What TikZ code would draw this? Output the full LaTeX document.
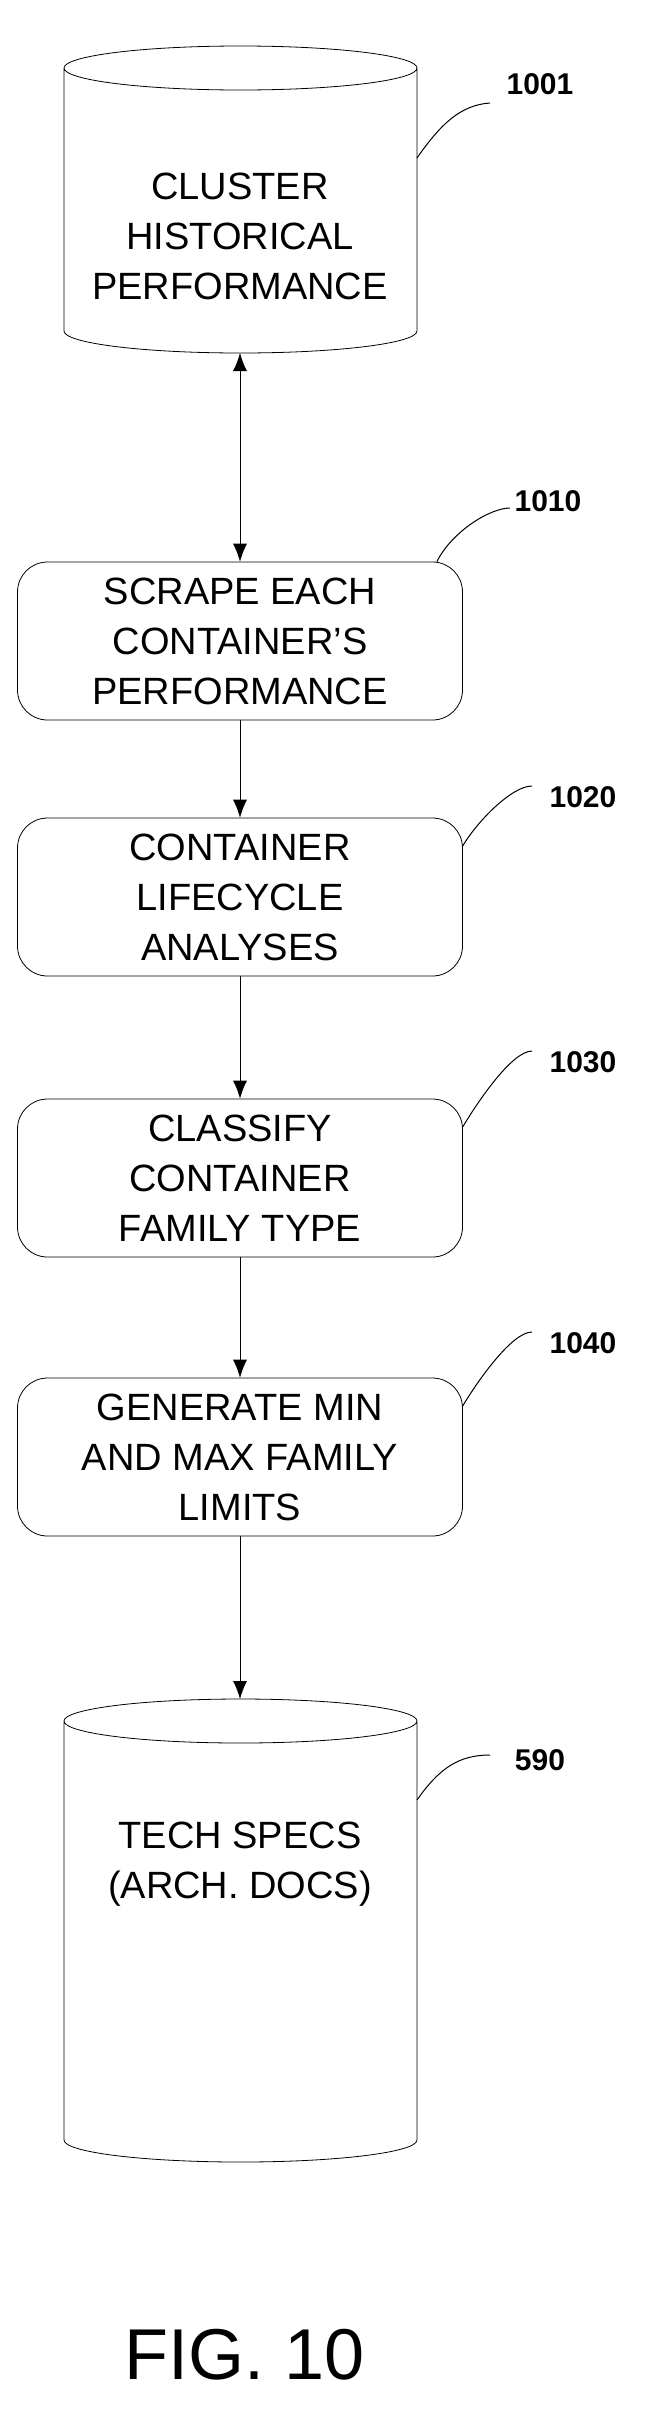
\documentclass[tikz,border=0pt]{standalone}
\usepackage{fontspec}
\setmainfont{Liberation Sans}
\usetikzlibrary{arrows.meta}
\begin{document}
\begin{tikzpicture}[x=1pt,y=-1pt,
  box/.style={draw,line width=0.8pt,rounded corners=30pt,minimum width=445pt,minimum height=158pt,align=center,font=\fontsize{38}{50}\selectfont},
  txt/.style={align=center,font=\fontsize{38}{50}\selectfont},
  lbl/.style={font=\bfseries\fontsize{30}{32}\selectfont},
  arr/.style={line width=0.8pt,-{Latex[length=18pt,width=14pt]}},
  cyl/.style={line width=0.8pt},
  lead/.style={line width=1pt}]
\useasboundingbox (0,0) rectangle (659,2420);
% cylinder 1
\draw[cyl] (64,68) -- (64,331) arc[start angle=180,end angle=0,x radius=176.5,y radius=22] -- (417,68) arc[start angle=0,end angle=-180,x radius=176.5,y radius=22] arc[start angle=180,end angle=0,x radius=176.5,y radius=22];
\node[txt] (c1) at (240,236) {CLUSTER\\HISTORICAL\\PERFORMANCE};
\coordinate (c1b) at (240,353);
\coordinate (c1r) at (417,158);
\node[lbl] (l1) at (540,84) {1001};
\draw[lead] (c1r) .. controls (440,125) and (460,105) .. (490,103);
% boxes
\node[box] (b1) at (240,641) {SCRAPE EACH\\CONTAINER'S\\PERFORMANCE};
\node[box] (b2) at (240,897) {CONTAINER\\LIFECYCLE\\ANALYSES};
\node[box] (b3) at (240,1178) {CLASSIFY\\CONTAINER\\FAMILY TYPE};
\node[box] (b4) at (240,1457) {GENERATE MIN\\AND MAX FAMILY\\LIMITS};
\node[lbl] (l2) at (548,501) {1010};
\node[lbl] (l3) at (583,797) {1020};
\node[lbl] (l4) at (583,1062) {1030};
\node[lbl] (l5) at (583,1343) {1040};
\draw[lead] ([xshift=-26pt]b1.north east) .. controls +(15,-30) and +(-20,0) .. (510,508);
\draw[lead] ([yshift=-28pt]b2.north east) .. controls +(15,-25) and +(-20,0) .. (532,786);
\draw[lead] ([yshift=-28pt]b3.north east) .. controls +(15,-25) and +(-20,0) .. (532,1051);
\draw[lead] ([yshift=-28pt]b4.north east) .. controls +(15,-25) and +(-20,0) .. (532,1332);
% cylinder 2
\draw[cyl] (64,1721) -- (64,2140) arc[start angle=180,end angle=0,x radius=176.5,y radius=22] -- (417,1721) arc[start angle=0,end angle=-180,x radius=176.5,y radius=22] arc[start angle=180,end angle=0,x radius=176.5,y radius=22];
\node[txt] (c2) at (240,1864) {TECH SPECS\\(ARCH. DOCS)};
\coordinate (c2t) at (240,1699);
\coordinate (c2r) at (417,1800);
\node[lbl] (l6) at (540,1760) {590};
\draw[lead] (c2r) .. controls (440,1767) and (460,1755) .. (490,1755);
% arrows
\draw[line width=0.8pt,{Latex[length=18pt,width=14pt]}-{Latex[length=18pt,width=14pt]}] (c1b) -- (b1.north);
\draw[arr] (b1.south) -- (b2.north);
\draw[arr] (b2.south) -- (b3.north);
\draw[arr] (b3.south) -- (b4.north);
\draw[arr] (b4.south) -- (c2t);
\node[font=\fontsize{72}{80}\selectfont] (fig) at (245,2355) {FIG. 10};
\end{tikzpicture}
\end{document}
